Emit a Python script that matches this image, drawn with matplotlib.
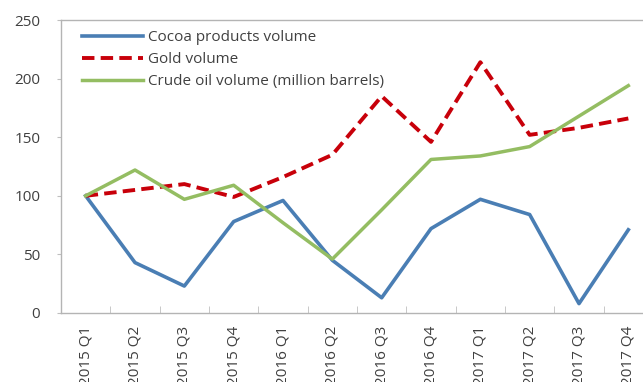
import matplotlib
matplotlib.use("Agg")
import matplotlib.pyplot as plt
import numpy as np

quarters = ["2015 Q1", "2015 Q2", "2015 Q3", "2015 Q4",
            "2016 Q1", "2016 Q2", "2016 Q3", "2016 Q4",
            "2017 Q1", "2017 Q2", "2017 Q3", "2017 Q4"]
cocoa = [100, 43, 23, 78, 96, 45, 13, 72, 97, 84, 8, 71]
gold = [100, 105, 110, 99, 116, 135, 185, 146, 214, 152, 158, 166]
crude = [100, 122, 97, 109, 77, 46, 88, 131, 134, 142, 168, 194]
yticks = [0, 50, 100, 150, 200, 250]

plt.rcParams['font.family'] = ['Open Sans', 'DejaVu Sans']

W, H = 643, 382
fig = plt.figure(figsize=(W / 100, H / 100), dpi=100)
# plot area runs past the right edge of the figure
left, right, top, bottom = 61, 653, 20, 313
ax = fig.add_axes([left / W, 1 - bottom / H, (right - left) / W, (bottom - top) / H])

x = np.arange(len(quarters))
ax.plot(x, cocoa, color="#4a7eb4", lw=2.6, label="Cocoa products volume")
ax.plot(x, gold, color="#c8000a", lw=2.8, ls=(0, (3.2, 1.6)), label="Gold volume")
ax.plot(x, crude, color="#94bd62", lw=2.5, label="Crude oil volume (million barrels)")

ax.set_xlim(-0.5, len(quarters) - 0.5)
ax.set_ylim(0, 250)
ax.set_yticks(yticks)
ax.set_yticklabels([str(v) for v in yticks], fontsize=11, color="#404040")

ax.set_xticks(x)
ax.set_xticklabels(quarters, rotation=90, fontsize=11, color="#404040", va="top", ha="center")
ax.set_xticks(np.arange(len(quarters) + 1) - 0.5, minor=True)
ax.tick_params(axis="x", which="major", length=0, pad=9)
ax.tick_params(axis="x", which="minor", length=5, color="#bfbfbf", direction="in")
ax.tick_params(axis="y", length=3, color="#bfbfbf", pad=12)

for s in ax.spines.values():
    s.set_color("#b4b4b4")
    s.set_linewidth(1.0)

leg = ax.legend(loc="upper left", bbox_to_anchor=(82 / W, 1 - 30 / H),
                bbox_transform=fig.transFigure, frameon=False,
                fontsize=11, handlelength=4.0, handletextpad=0.33,
                labelspacing=0.46, borderaxespad=0, borderpad=0)
for t in leg.get_texts():
    t.set_color("#404040")

fig.savefig("out.png", dpi=100)
